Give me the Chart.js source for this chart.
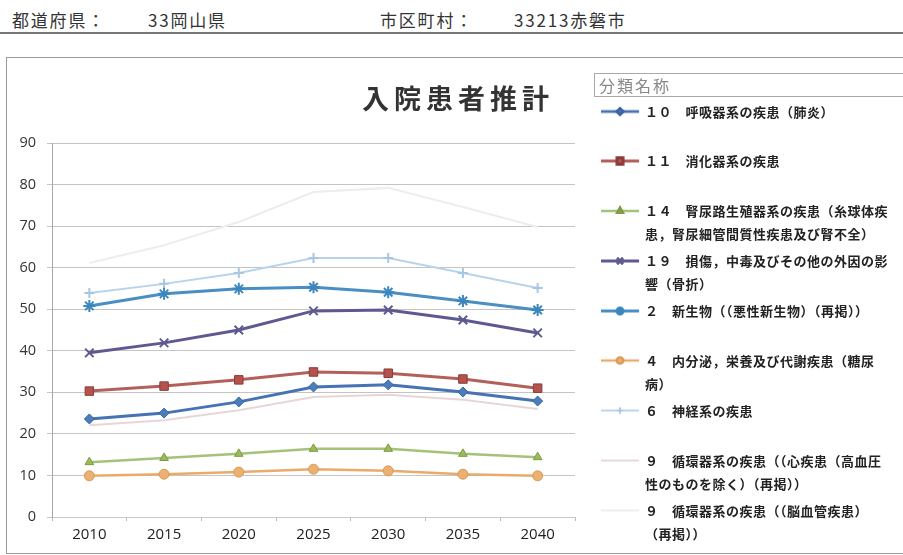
<!DOCTYPE html>
<html>
<head>
<meta charset="utf-8">
<script src="https://cdn.jsdelivr.net/npm/chart.js@4/dist/chart.umd.min.js"></script>
<style>
  body { margin: 0; width: 903px; height: 555px; overflow: hidden; background: #fff;
         font-family: "Noto Sans CJK JP", "Noto Sans", sans-serif; position: relative; }
  .hdr { position: absolute; top: 7px; font-size: 17px; color: #333; letter-spacing: 1.8px; }
  #hline { position: absolute; left: 0; top: 32px; width: 903px; height: 0; border-top: 2px solid #777; }
  #box { position: absolute; left: 6px; top: 57px; width: 905px; height: 495px; border: 1px solid #999; }
  #title { position: absolute; left: 362px; top: 78px; font-size: 27px; font-weight: bold;
           color: #333; letter-spacing: 5px; }
  #legHead { position: absolute; left: 594px; top: 73px; width: 320px; height: 22px;
             border: 1px solid #aaa; font-size: 16px; color: #888; letter-spacing: 2px;
             line-height: 22px; padding-left: 4px; }
  .leg { position: absolute; left: 600px; }
  .leg .sw { position: absolute; left: 0; top: 11px; width: 40px; }
  .leg .txt { position: absolute; left: 45px; top: 0; width: 255px; font-size: 13px; font-weight: bold;
              color: #222; line-height: 23px; white-space: pre; letter-spacing: 0.5px; }
  canvas { position: absolute; left: 0; top: 0; }
</style>
</head>
<body>
<div class="hdr" style="left:12px">都道府県：</div>
<div class="hdr" style="left:148px">33岡山県</div>
<div class="hdr" style="left:380px">市区町村：</div>
<div class="hdr" style="left:514px">33213赤磐市</div>
<div id="hline"></div>
<div id="box"></div>
<canvas id="chart" width="903" height="555"></canvas>
<div id="title">入院患者推計</div>
<div id="legHead">分類名称</div>
<div id="legend"></div>
<script>
/***** DATA *****/

const years = ['2010', '2015', '2020', '2025', '2030', '2035', '2040']

const seriesNames = [
  '１０　呼吸器系の疾患（肺炎）',
  '１１　消化器系の疾患',
  '１４　腎尿路生殖器系の疾患（糸球体疾\n患，腎尿細管間質性疾患及び腎不全）',
  '１９　損傷，中毒及びその他の外因の影\n響（骨折）',
  '２　新生物（（悪性新生物）（再掲））',
  '４　内分泌，栄養及び代謝疾患（糖尿\n病）',
  '６　神経系の疾患',
  '９　循環器系の疾患（（心疾患（高血圧\n性のものを除く）（再掲））',
  '９　循環器系の疾患（（脳血管疾患）\n（再掲））'
]

const respiratory   = [23.6, 25.0, 27.7, 31.3, 31.8, 30.1, 27.9]
const digestive     = [30.3, 31.5, 33.0, 34.9, 34.6, 33.2, 31.0]
const genitourinary = [13.2, 14.2, 15.2, 16.4, 16.4, 15.2, 14.4]
const injury        = [39.5, 41.9, 45.0, 49.6, 49.8, 47.4, 44.3]
const neoplasm      = [50.8, 53.7, 54.9, 55.3, 54.1, 52.0, 49.8]
const endocrine     = [9.9, 10.3, 10.8, 11.5, 11.1, 10.3, 9.9]
const nervous       = [53.9, 56.1, 58.7, 62.3, 62.3, 58.7, 55.1]
const heart         = [22.1, 23.3, 25.7, 28.9, 29.4, 28.2, 26.0]
const cerebro       = [61.1, 65.4, 71.0, 78.2, 79.2, 74.6, 69.8]

const yTicks = [0, 10, 20, 30, 40, 50, 60, 70, 80, 90]

/***** STYLES *****/

const seriesValues = [respiratory, digestive, genitourinary, injury, neoplasm, endocrine, nervous, heart, cerebro]

const styles = [
  {line: '#4673B3', fill: '#4A7EBB', edge: '#3A64A0', shape: 'rectRot', r: 5, w: 3},
  {line: '#B3605B', fill: '#B4534E', edge: '#8A3B38', shape: 'rect', r: 6, w: 3},
  {line: '#A5C27A', fill: '#9BBB59', edge: '#7E9A45', shape: 'triangle', r: 5, w: 2.5},
  {line: '#5E5A91', fill: '#5E5A91', edge: '#5E5A91', shape: 'crossRot', r: 6, w: 3},
  {line: '#4A8FC4', fill: '#4A8FC4', edge: '#3C86BE', shape: 'star', r: 6, w: 3},
  {line: '#E9AA6A', fill: '#EBB072', edge: '#D99A55', shape: 'circle', r: 5, w: 2.5},
  {line: '#B6D4EC', fill: '#B6D4EC', edge: '#A8C6E0', shape: 'cross', r: 5, w: 2},
  {line: '#E8D6D6', fill: '#E8D6D6', edge: '#E0CACA', shape: 'line', r: 0, w: 2},
  {line: '#EDEDED', fill: '#EDEDED', edge: '#E6E6E6', shape: 'line', r: 0, w: 2}
]

/***** CHART *****/

const datasets = seriesValues.map((vals, i) => {
  const s = styles[i]
  return {
    label: seriesNames[i].replace('\n', ''),
    data: vals,
    borderColor: s.line,
    borderWidth: s.w,
    backgroundColor: s.fill,
    pointStyle: s.shape,
    pointRadius: s.r,
    pointBorderColor: s.edge,
    pointBackgroundColor: s.fill,
    pointBorderWidth: s.shape === 'crossRot' || s.shape === 'cross' || s.shape === 'star' ? 2 : 1,
    tension: 0,
    order: i >= 6 ? 10 : i
  }
})

const ctx = document.getElementById('chart')
new Chart(ctx, {
  type: 'line',
  data: {labels: years, datasets: datasets},
  options: {
    responsive: false,
    animation: false,
    layout: {padding: {left: 0, top: 143, right: 328, bottom: 8}},
    plugins: {legend: {display: false}, tooltip: {enabled: false}},
    scales: {
      x: {
        offset: true,
        grid: {display: true, drawOnChartArea: false, offset: true, tickLength: 4, color: '#bbbbbb'},
        border: {display: true, color: '#c8c8c8'},
        ticks: {padding: 5, color: '#222', font: {family: 'Open Sans', size: 15}},
        afterFit: (s) => { s.height = 30 }
      },
      y: {
        min: 0,
        max: 90,
        afterBuildTicks: (s) => { s.ticks = yTicks.map(v => ({value: v})) },
        grid: {color: '#c4c4c4', tickLength: 5},
        border: {display: true, color: '#a8a8a8'},
        ticks: {padding: 11, color: '#333', font: {family: 'Open Sans', size: 14.5}},
        afterFit: (s) => { s.width = 52 }
      }
    }
  }
})

/***** LEGEND *****/

const legend = document.getElementById('legend')
seriesNames.forEach((name, i) => {
  const s = styles[i]
  const row = document.createElement('div')
  row.className = 'leg'
  row.style.top = (99.5 + i * 49.9) + 'px'
  const sw = document.createElement('canvas')
  sw.className = 'sw'
  sw.width = 42
  sw.height = 12
  sw.style.top = '6px'
  const g = sw.getContext('2d')
  g.strokeStyle = s.line
  g.lineWidth = s.w
  g.beginPath(); g.moveTo(1, 6); g.lineTo(41, 6); g.stroke()
  if (s.r > 0) {
    g.fillStyle = s.fill
    g.strokeStyle = s.edge
    Chart.helpers.drawPoint(g, {pointStyle: s.shape, radius: s.r - 1.5, borderWidth: 1.5}, 21, 6)
  }
  row.appendChild(sw)
  const txt = document.createElement('div')
  txt.className = 'txt'
  txt.textContent = name
  row.appendChild(txt)
  legend.appendChild(row)
})
</script>
</body>
</html>
